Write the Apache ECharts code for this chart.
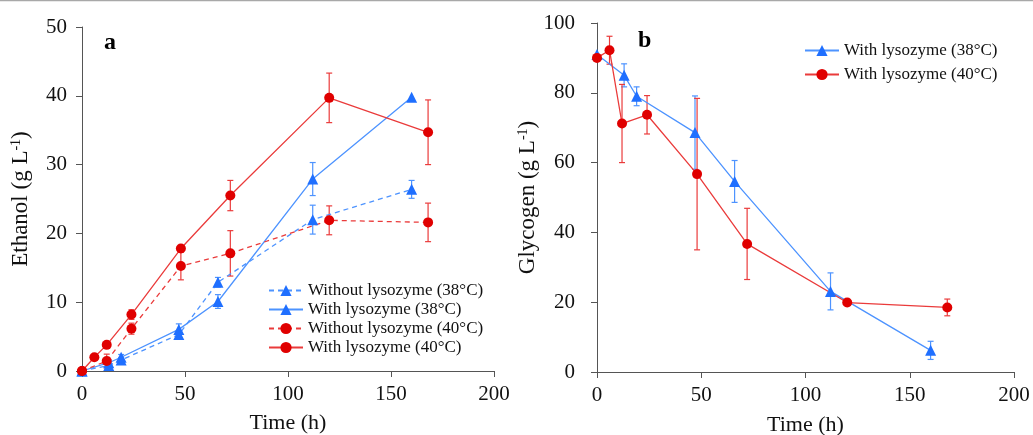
<!DOCTYPE html>
<html>
<head>
<meta charset="utf-8">
<script src="https://cdn.jsdelivr.net/npm/echarts@6/dist/echarts.min.js"></script>
<style>
  html, body { margin: 0; padding: 0; background: #fff; }
  #chart { width: 1033px; height: 435px; }
</style>
</head>
<body>
<div id="chart"></div>
<script>
// ---------- Data (panel a: ethanol) ----------
const ethTime38 = [0, 13, 19, 47, 66, 112, 160];
const ethNoLys38 = [0, 0.8, 1.6, 5.3, 12.9, 22.0, 26.4];
const ethNoLys38Err = [0, 0.5, 0.3, 0.4, 0.7, 2.1, 1.3];
const ethLys38 = [0, 1.2, 2.0, 6.05, 10.1, 27.9, 39.8];
const ethLys38Err = [0, 0.4, 0.4, 0.8, 1.0, 2.4, 0];
const ethTime40NoLys = [0, 12, 24, 48, 72, 120, 168];
const ethNoLys40 = [0, 1.45, 6.15, 15.25, 17.1, 21.9, 21.6];
const ethNoLys40Err = [0, 1.0, 0.8, 2.0, 3.3, 2.1, 2.8];
const ethTime40Lys = [0, 6, 12, 24, 48, 72, 120, 168];
const ethLys40 = [0, 2.0, 3.8, 8.2, 17.8, 25.5, 39.7, 34.7];
const ethLys40Err = [0, 0, 0, 0.7, 0, 2.2, 3.6, 4.7];

// ---------- Data (panel b: glycogen) ----------
const glyTime38 = [0, 13, 19, 47, 66, 112, 160];
const glyLys38 = [91, 85.0, 79.0, 68.6, 54.6, 23.1, 6.2];
const glyLys38Err = [0, 3.3, 2.7, 10.5, 6.0, 5.3, 2.6];
const glyTime40 = [0, 6, 12, 24, 48, 72, 120, 168];
const glyLys40 = [90.0, 92.2, 71.2, 73.7, 56.7, 36.7, 19.9, 18.5];
const glyLys40Err = [0, 4.0, 11.2, 5.5, 21.7, 10.2, 0.5, 2.4];

const names = {
  noLys38: 'Without lysozyme (38°C)',
  lys38: 'With lysozyme (38°C)',
  noLys40: 'Without lysozyme (40°C)',
  lys40: 'With lysozyme (40°C)'
};

const BLUE = '#1f6fff', BLUE_LINE = '#4d93ff';
const RED = '#e00000', RED_LINE = '#ea3b3b';
const FONT = '"Liberation Serif", "Times New Roman", serif';

function pairs(xs, ys) { return xs.map((x, i) => [x, ys[i]]); }
function errData(xs, ys, es) {
  const out = [];
  xs.forEach((x, i) => { if (es[i] > 0) out.push([x, ys[i] - es[i], ys[i] + es[i]]); });
  return out;
}
function lineSeries(name, xs, ys, idx, color, lineColor, symbol, dashed) {
  return {
    type: 'line', name, xAxisIndex: idx, yAxisIndex: idx,
    data: pairs(xs, ys), symbol, symbolSize: symbol === 'triangle' ? 11 : 10,
    itemStyle: { color },
    lineStyle: { color: lineColor, width: 1.3, type: dashed ? [5, 4] : 'solid' },
    z: 3, animation: false
  };
}
function errSeries(xs, ys, es, idx, color) {
  return {
    type: 'custom', xAxisIndex: idx, yAxisIndex: idx, z: 2, animation: false,
    silent: true,
    data: errData(xs, ys, es),
    renderItem: function (params, api) {
      const x = api.value(0);
      const lo = api.coord([x, api.value(1)]);
      const hi = api.coord([x, api.value(2)]);
      const cw = 3;
      const st = { stroke: color, lineWidth: 1.2 };
      return {
        type: 'group',
        children: [
          { type: 'line', shape: { x1: lo[0], y1: lo[1], x2: hi[0], y2: hi[1] }, style: st },
          { type: 'line', shape: { x1: lo[0] - cw, y1: lo[1], x2: lo[0] + cw, y2: lo[1] }, style: st },
          { type: 'line', shape: { x1: hi[0] - cw, y1: hi[1], x2: hi[0] + cw, y2: hi[1] }, style: st }
        ]
      };
    }
  };
}

const axisLineStyle = { lineStyle: { color: '#555', width: 1 } };
function xAxis(idx) {
  return {
    type: 'value', gridIndex: idx, min: 0, max: 200, interval: 50,
    name: 'Time (h)', nameLocation: 'middle', nameGap: idx === 0 ? 41 : 42,
    nameTextStyle: { fontFamily: FONT, fontSize: 22, color: '#111' },
    axisLine: axisLineStyle, axisTick: { show: true, length: 6, lineStyle: { color: '#555' } },
    axisLabel: { fontFamily: FONT, fontSize: 21, color: '#111', margin: 13 },
    splitLine: { show: false }
  };
}
function yAxis(idx, max, interval, nameMain, gap, margin) {
  return {
    type: 'value', gridIndex: idx, min: 0, max, interval,
    name: nameMain + ' (g L{sup|-1})', nameLocation: 'middle', nameGap: gap,
    nameTextStyle: {
      fontFamily: FONT, fontSize: 23, color: '#111',
      rich: { sup: { fontFamily: FONT, fontSize: 14, color: '#111', verticalAlign: 'top' } }
    },
    axisLine: { show: true, lineStyle: { color: '#555', width: 1 } },
    axisTick: { show: true, length: 6, lineStyle: { color: '#555' } },
    axisLabel: { fontFamily: FONT, fontSize: 21, color: '#111', margin },
    splitLine: { show: false }
  };
}

const chart = echarts.init(document.getElementById('chart'), null, { renderer: 'canvas' });
chart.setOption({
  backgroundColor: '#fff',
  animation: false,
  title: [
    { text: 'a', left: 99, top: 26, textStyle: { fontFamily: FONT, fontSize: 24, fontWeight: 'bold', color: '#000' } },
    { text: 'b', left: 633, top: 24, textStyle: { fontFamily: FONT, fontSize: 24, fontWeight: 'bold', color: '#000' } }
  ],
  grid: [
    { left: 82, top: 27, width: 412, height: 344, containLabel: false, outerBoundsMode: 'none' },
    { left: 597, top: 23, width: 417, height: 349, containLabel: false, outerBoundsMode: 'none' }
  ],
  xAxis: [xAxis(0), xAxis(1)],
  yAxis: [yAxis(0, 50, 10, 'Ethanol', 50, 15), yAxis(1, 100, 20, 'Glycogen', 52, 22)],
  legend: [
    {
      orient: 'vertical', left: 263, top: 277, itemWidth: 34, itemHeight: 14, itemGap: 2,
      data: [names.noLys38, names.lys38, names.noLys40, names.lys40],
      textStyle: { fontFamily: FONT, fontSize: 17, color: '#111', lineHeight: 17 },
      selectedMode: false
    },
    {
      orient: 'vertical', left: 799, top: 37, itemWidth: 34, itemHeight: 14, itemGap: 7,
      data: [names.lys38, names.lys40],
      textStyle: { fontFamily: FONT, fontSize: 17, color: '#111', lineHeight: 17 },
      selectedMode: false
    }
  ],
  graphic: [
    { type: 'line', shape: { x1: 0, y1: 0.5, x2: 1033, y2: 0.5 }, style: { stroke: '#a8a8a8', lineWidth: 1.5 } }
  ],
  series: [
    errSeries(ethTime38, ethNoLys38, ethNoLys38Err, 0, BLUE_LINE),
    errSeries(ethTime38, ethLys38, ethLys38Err, 0, BLUE_LINE),
    errSeries(ethTime40NoLys, ethNoLys40, ethNoLys40Err, 0, RED_LINE),
    errSeries(ethTime40Lys, ethLys40, ethLys40Err, 0, RED_LINE),
    lineSeries(names.noLys38, ethTime38, ethNoLys38, 0, BLUE, BLUE_LINE, 'triangle', true),
    lineSeries(names.lys38, ethTime38, ethLys38, 0, BLUE, BLUE_LINE, 'triangle', false),
    lineSeries(names.noLys40, ethTime40NoLys, ethNoLys40, 0, RED, RED_LINE, 'circle', true),
    lineSeries(names.lys40, ethTime40Lys, ethLys40, 0, RED, RED_LINE, 'circle', false),
    errSeries(glyTime38, glyLys38, glyLys38Err, 1, BLUE_LINE),
    errSeries(glyTime40, glyLys40, glyLys40Err, 1, RED_LINE),
    lineSeries(names.lys38, glyTime38, glyLys38, 1, BLUE, BLUE_LINE, 'triangle', false),
    lineSeries(names.lys40, glyTime40, glyLys40, 1, RED, RED_LINE, 'circle', false)
  ]
});
</script>
</body>
</html>
